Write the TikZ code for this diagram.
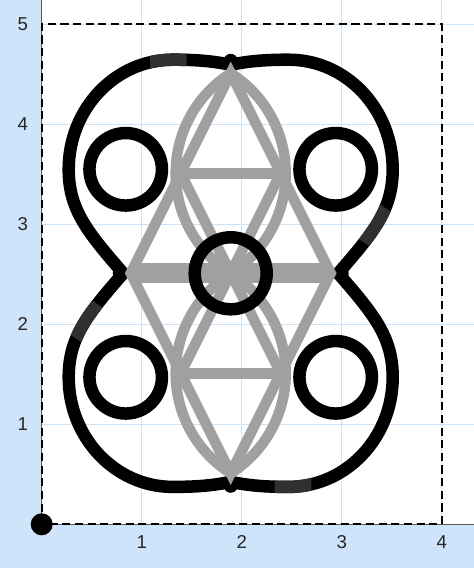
\documentclass[tikz,border=0pt]{standalone}
\usepackage{fontspec}
\setmainfont{Liberation Sans}
\definecolor{bandblue}{RGB}{206,228,250}
\definecolor{gridblue}{RGB}{206,226,246}
\definecolor{graystroke}{RGB}{160,160,160}
\definecolor{darkseg}{RGB}{48,48,48}
\begin{document}
\begin{tikzpicture}[
  bigline/.style={line width=1.25mm, line cap=round},
  grayline/.style={line width=1.05mm, draw=graystroke},
  ringline/.style={line width=1.25mm, draw=black},
  ticklab/.style={font=\fontsize{5.3}{6}\selectfont, text=black!85, inner sep=0pt},
]
\useasboundingbox (-0.417,-0.437) rectangle (4.323,5.243);
\fill[bandblue] (-0.417,-0.437) rectangle (4.323,5.243);
\fill[white] (0,0) rectangle (4.323,5.243);
\foreach \i in {1,...,4} \draw[gridblue, line width=0.35pt] (\i,0) -- (\i,5.243);
\foreach \j in {1,...,5} \draw[gridblue, line width=0.35pt] (0,\j) -- (4.323,\j);
\draw[black!65, line width=0.3pt] (0,0) -- (0,5.243);
\draw[black!65, line width=0.3pt] (0,0) -- (4.323,0);
\draw[dash pattern=on 2.3pt off 1.3pt, line width=0.5pt] (0,0) rectangle (4,5);
\foreach \i in {1,...,4} \node[ticklab] (xl\i) at (\i,-0.18) {\i};
\foreach \j in {1,...,5} \node[ticklab] (yl\j) at (-0.19,\j) {\j};
\fill (0,0) circle (0.11);

\begin{scope}[shift={(1.89,2.51)}]
  % black outer curves
  \foreach \sx/\sy in {1/1,-1/1,1/-1,-1/-1}{
    \draw[bigline, xscale=\sx, yscale=\sy] (-1.075,0) .. controls (-1.436,0.415) and (-1.62,0.64) .. (-1.62,1.04)
      .. controls (-1.62,1.645) and (-1.154,2.136) .. (-0.58,2.136)
      .. controls (-0.38,2.136) and (-0.196,2.127) .. (0,2.085);
  }
  % dark segments
  \foreach \rot in {0,180}{
    \begin{scope}[rotate=\rot]
      \begin{scope}
        \clip (-0.807,1.9) rectangle (-0.44,2.4);
        \draw[bigline, draw=darkseg, line cap=butt] (-1.62,1.04)
          .. controls (-1.62,1.645) and (-1.154,2.136) .. (-0.58,2.136)
          .. controls (-0.38,2.136) and (-0.196,2.127) .. (0,2.085);
      \end{scope}
      \begin{scope}[xscale=-1]
        \clip (-1.589,0.128) -- (-1.097,0.472) -- (-1.330,0.805) -- (-1.822,0.461) -- cycle;
        \draw[bigline, draw=darkseg, line cap=butt] (-1.075,0) .. controls (-1.436,0.415) and (-1.62,0.64) .. (-1.62,1.04);
      \end{scope}
    \end{scope}
  }
  % junction dots
  \fill (0,2.125) circle (0.07);
  \fill (0,-2.125) circle (0.07);
  \fill (-1.11,0) circle (0.07);
  \fill (1.11,0) circle (0.07);

  % gray structure
  \coordinate (T) at (0,2);
  \coordinate (L) at (-1,0);
  \coordinate (R) at (1,0);
  \coordinate (B) at (0,-2);
  \coordinate (C) at (0,0);
  \coordinate (UL) at (-0.5,1);
  \coordinate (UR) at (0.5,1);
  \coordinate (DL) at (-0.5,-1);
  \coordinate (DR) at (0.5,-1);
  \draw[grayline, line join=miter] (T) -- (L) -- (B) -- (R) -- cycle;
  \draw[grayline, line width=2mm] (L) -- (R);
  \draw[grayline] (UL) -- (UR);
  \draw[grayline] (DL) -- (DR);
  \draw[grayline] (UL) -- (C) -- (UR);
  \draw[grayline] (DL) -- (C) -- (DR);
  \draw[grayline] (T) arc[start angle=122.37, end angle=237.63, radius=1.184];
  \draw[grayline] (T) arc[start angle=57.63, end angle=-57.63, radius=1.184];
  \draw[grayline] (C) arc[start angle=122.37, end angle=237.63, radius=1.184];
  \draw[grayline] (C) arc[start angle=57.63, end angle=-57.63, radius=1.184];

  % black rings
  \draw[ringline] (-1.05,1.04) circle (0.3625);
  \draw[ringline] (1.05,1.04) circle (0.3625);
  \draw[ringline] (-1.05,-1.04) circle (0.3625);
  \draw[ringline] (1.05,-1.04) circle (0.3625);
  \draw[ringline] (C) circle (0.36);
\end{scope}
\end{tikzpicture}
\end{document}
